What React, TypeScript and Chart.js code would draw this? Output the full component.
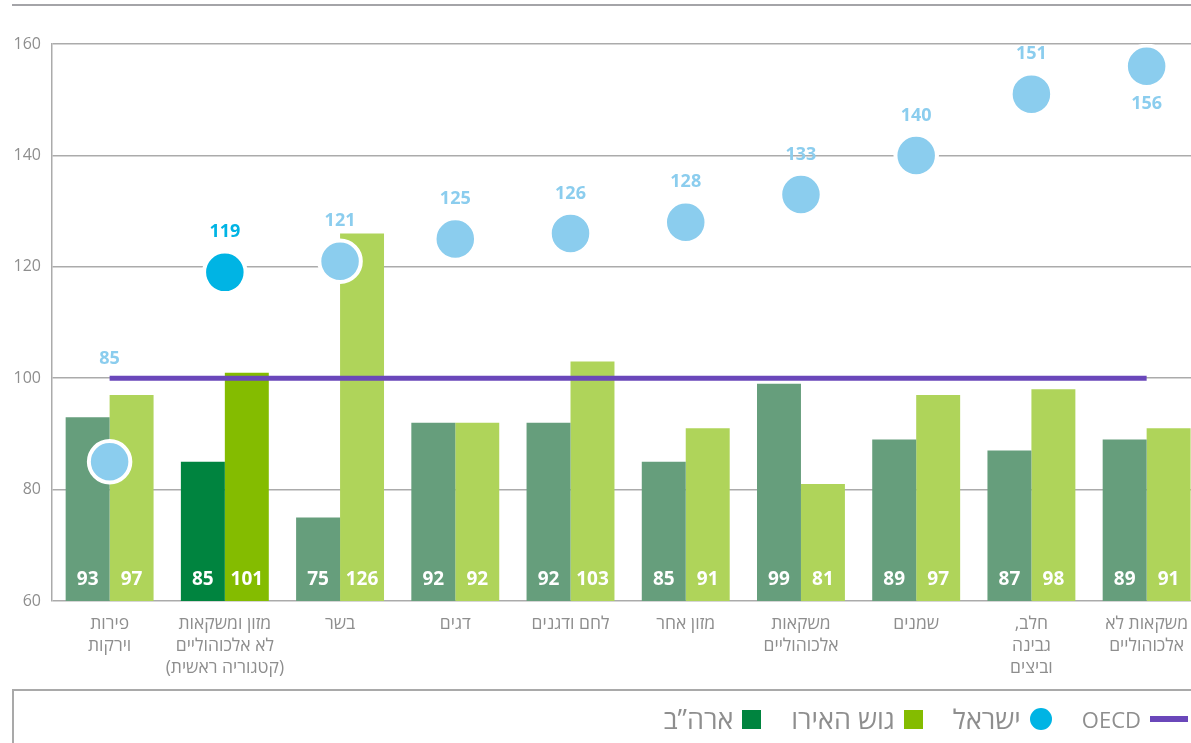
import React, { useEffect, useRef } from 'react';
import { Chart, registerables } from 'chart.js';

Chart.register(...registerables);

// ---------- data ----------
const categories: string[][] = [
  ['פירות', 'וירקות'],
  ['מזון ומשקאות', 'לא אלכוהוליים', '(קטגוריה ראשית)'],
  ['בשר'],
  ['דגים'],
  ['לחם ודגנים'],
  ['מזון אחר'],
  ['משקאות', 'אלכוהוליים'],
  ['שמנים'],
  ['חלב,', 'גבינה', 'וביצים'],
  ['משקאות לא', 'אלכוהוליים'],
];
const usaValues = [93, 85, 75, 92, 92, 85, 99, 89, 87, 89];
const euroValues = [97, 101, 126, 92, 103, 91, 81, 97, 98, 91];
const israelValues = [85, 119, 121, 125, 126, 128, 133, 140, 151, 156];
const oecdValues = [100, 100, 100, 100, 100, 100, 100, 100, 100, 100];
const yTicks = [60, 80, 100, 120, 140, 160];
const seriesNames = { oecd: 'OECD', israel: 'ישראל', euro: 'גוש האירו', usa: 'ארה”ב' };

// ---------- styles ----------
const highlightIndex = 1;
const israelLabelPlacement = ['oecd', 'above', 'above', 'above', 'above', 'above', 'above', 'above', 'above', 'below'];
const COLORS = {
  usa: '#00843f',
  usaSoft: '#669e7c',
  euro: '#84bc00',
  euroSoft: '#afd45a',
  israel: '#00b4e4',
  israelSoft: '#8bcdee',
  oecd: '#6a47ba',
  grid: '#ababab',
  text: '#8e8e8e',
};
const FONT = "'Open Sans', 'DejaVu Sans', sans-serif";
const CANVAS_W = 1229;
const CANVAS_H = 690;

const pick = (strong: string, soft: string) => categories.map((_, i) => (i === highlightIndex ? strong : soft));

const labelPlugin = {
  id: 'valueLabels',
  afterDatasetsDraw(chart: any) {
    const ctx = chart.ctx;
    const y = chart.scales.y;
    const base = y.getPixelForValue(y.min);
    ctx.save();
    ctx.textAlign = 'center';
    ctx.textBaseline = 'middle';
    ctx.font = `700 19px ${FONT}`;
    ctx.fillStyle = '#ffffff';
    [0, 1].forEach((di) => {
      const meta = chart.getDatasetMeta(di);
      const vals = chart.data.datasets[di].data;
      meta.data.forEach((el: any, i: number) => {
        ctx.fillText(String(vals[i]), el.x, base - 21);
      });
    });
    const isr = chart.getDatasetMeta(3);
    const oecd = chart.getDatasetMeta(2);
    ctx.font = `700 18px ${FONT}`;
    isr.data.forEach((el: any, i: number) => {
      ctx.fillStyle = i === highlightIndex ? COLORS.israel : COLORS.israelSoft;
      const p = israelLabelPlacement[i];
      let ty = el.y - 40;
      if (p === 'below') ty = el.y + 38;
      if (p === 'oecd') ty = oecd.data[i].y - 19;
      ctx.fillText(String(israelValues[i]), el.x, ty);
    });
    ctx.restore();
  },
};

export default function App() {
  const canvasRef = useRef<HTMLCanvasElement | null>(null);

  useEffect(() => {
    document.body.style.margin = '0';
    const canvas = canvasRef.current!;
    const chart = new Chart(canvas, {
      data: {
        labels: categories,
        datasets: [
          {
            type: 'bar',
            label: seriesNames.usa,
            data: usaValues,
            backgroundColor: pick(COLORS.usa, COLORS.usaSoft),
            categoryPercentage: 0.763,
            barPercentage: 1,
            order: 2,
          },
          {
            type: 'bar',
            label: seriesNames.euro,
            data: euroValues,
            backgroundColor: pick(COLORS.euro, COLORS.euroSoft),
            categoryPercentage: 0.763,
            barPercentage: 1,
            order: 3,
          },
          {
            type: 'line',
            label: seriesNames.oecd,
            data: oecdValues,
            borderColor: COLORS.oecd,
            borderWidth: 5,
            pointRadius: 0,
            pointHoverRadius: 0,
            fill: false,
            order: 1,
          },
          {
            type: 'line',
            label: seriesNames.israel,
            data: israelValues,
            showLine: false,
            pointRadius: 20.75,
            pointHoverRadius: 20.75,
            pointBorderWidth: 4,
            pointHoverBorderWidth: 4,
            pointBorderColor: '#ffffff',
            pointBackgroundColor: pick(COLORS.israel, COLORS.israelSoft),
            order: 0,
          },
        ] as any,
      },
      options: {
        animation: false,
        responsive: false,
        maintainAspectRatio: false,
        layout: { padding: { top: 44, left: 0, right: 0, bottom: 0 } },
        plugins: { legend: { display: false }, tooltip: { enabled: false } },
        events: [],
        scales: {
          x: {
            type: 'category',
            offset: true,
            grid: { display: false, drawTicks: false },
            border: { display: false },
            ticks: {
              color: COLORS.text,
              font: { family: FONT, size: 17.5, lineHeight: 1.25 },
              padding: 12,
              maxRotation: 0,
              autoSkip: false,
            },
            afterFit: (s: any) => {
              s.height = CANVAS_H - 601;
            },
          },
          y: {
            type: 'linear',
            min: 60,
            max: 160,
            afterBuildTicks: (s: any) => {
              s.ticks = yTicks.map((v) => ({ value: v }));
            },
            grid: { color: COLORS.grid, lineWidth: 1.5, drawTicks: false },
            border: { display: true, color: COLORS.grid, width: 1.5 },
            ticks: {
              color: COLORS.text,
              font: { family: FONT, size: 16 },
              padding: 11,
            },
            afterFit: (s: any) => {
              s.width = 52;
            },
          },
        },
      } as any,
      plugins: [labelPlugin],
    });
    return () => chart.destroy();
  }, []);

  const legendItems = [
    { name: seriesNames.oecd, size: 22, marker: { width: 38, height: 6, background: COLORS.oecd } },
    { name: seriesNames.israel, size: 27, marker: { width: 22, height: 22, borderRadius: '50%', background: COLORS.israel } },
    { name: seriesNames.euro, size: 27, marker: { width: 19, height: 19, background: COLORS.euro } },
    { name: seriesNames.usa, size: 27, marker: { width: 19, height: 19, background: COLORS.usa } },
  ];

  return (
    <div
      style={{
        position: 'absolute',
        left: 0,
        top: 0,
        width: 1191,
        height: 743,
        overflow: 'hidden',
        background: '#fff',
      }}
    >
      <div
        style={{
          position: 'absolute',
          left: 12,
          top: 4,
          width: 1200,
          height: 0,
          borderTop: '2.5px solid #a4a4a8',
        }}
      />
      <div style={{ position: 'absolute', left: 0, top: 0, width: CANVAS_W, height: CANVAS_H }}>
        <canvas
          ref={canvasRef}
          dir="rtl"
          width={CANVAS_W}
          height={CANVAS_H}
          style={{ width: CANVAS_W, height: CANVAS_H, display: 'block' }}
        />
      </div>
      <div
        style={{
          position: 'absolute',
          left: 12,
          top: 689,
          width: 1200,
          height: 80,
          borderTop: '2px solid #a9a9a9',
          borderLeft: '2px solid #a9a9a9',
          boxSizing: 'border-box',
        }}
      >
        <div
          dir="rtl"
          style={{
            position: 'absolute',
            right: 24,
            top: 13,
            height: 30,
            display: 'flex',
            alignItems: 'center',
            gap: 30,
            fontFamily: FONT,
            color: COLORS.text,
            whiteSpace: 'nowrap',
          }}
        >
          {legendItems.map((it) => (
            <div key={it.name} style={{ display: 'flex', alignItems: 'center', gap: 9 }}>
              <span style={{ display: 'inline-block', ...it.marker }} />
              <span style={{ lineHeight: '30px', fontSize: it.size }}>{it.name}</span>
            </div>
          ))}
        </div>
      </div>
    </div>
  );
}
